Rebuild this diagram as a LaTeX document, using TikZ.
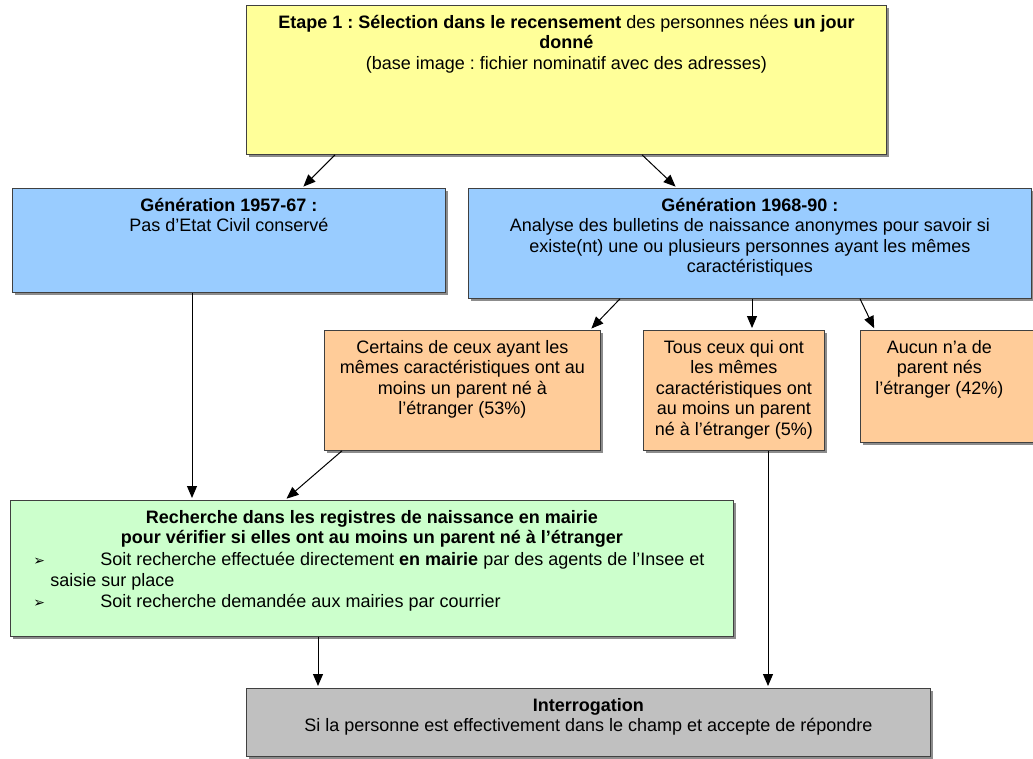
\documentclass[tikz,border=0pt]{standalone}
\usepackage{fontspec}
\setmainfont{Liberation Sans}
\newfontfamily\symfont{DejaVu Sans}
\usetikzlibrary{arrows.meta}
\definecolor{cyel}{HTML}{FFFF99}
\definecolor{cblue}{HTML}{99CCFF}
\definecolor{corange}{HTML}{FFCC99}
\definecolor{cgreen}{HTML}{CCFFCC}
\definecolor{cgray}{HTML}{C0C0C0}
\newcommand{\bx}[3]{\parbox[c][#1][t]{#2}{\frenchspacing\centering\rule{0pt}{23pt}#3}}
\newcommand{\blt}{\makebox[67pt][l]{\symfont\fontsize{14}{14}\selectfont ➢}}
\begin{document}
\begin{tikzpicture}[x=1pt,y=-1pt,
  box/.style={draw=black!75, line width=0.8pt, inner sep=0pt, anchor=north west,
    font=\fontsize{18}{20.5}\selectfont,
    preaction={fill=black!45, transform canvas={xshift=3pt,yshift=-3pt}}},
  arr/.style={-{Triangle[length=12pt,width=10pt]}, line width=1pt, shorten >=2pt}]
\useasboundingbox[fill=white] (0,0) rectangle (1033,758);

\node[box, fill=cyel] (yel) at (246,5) {\bx{149pt}{640pt}{%
  \textbf{Etape 1 : Sélection dans le recensement} des personnes nées \textbf{un jour}\\
  \textbf{donné}\\
  (base image : fichier nominatif avec des adresses)}};

\node[box, fill=cblue] (bl) at (12,188) {\bx{104pt}{433pt}{%
  \textbf{Génération 1957-67 :}\\
  Pas d'Etat Civil conservé}};

\node[box, fill=cblue] (br) at (468,188) {\bx{110pt}{563pt}{%
  \textbf{Génération 1968-90 :}\\
  Analyse des bulletins de naissance anonymes pour savoir si\\
  existe(nt) une ou plusieurs personnes ayant les mêmes\\
  caractéristiques}};

\node[box, fill=corange] (or1) at (324,330) {\bx{120pt}{276pt}{%
  Certains de ceux ayant les\\
  mêmes caractéristiques ont au\\
  moins un parent né à\\
  l'étranger (53\%)}};

\node[box, fill=corange] (or2) at (643,330) {\bx{120pt}{181pt}{%
  Tous ceux qui ont\\
  les mêmes\\
  caractéristiques ont\\
  au moins un parent\\
  né à l'étranger (5\%)}};

\node[box, fill=corange] (or3) at (860,330) {\bx{112pt}{158pt}{%
  Aucun n'a de\\
  parent nés\\
  l'étranger (42\%)}\rule{20pt}{0pt}};

\node[box, fill=cgreen] (gr) at (10,500) {\parbox[c][136pt][t]{723pt}{\frenchspacing
  {\centering\rule{0pt}{23pt}\textbf{Recherche dans les registres de naissance en mairie}\\
  \textbf{pour vérifier si elles ont au moins un parent né à l'étranger}\par}
  \vspace{1.5pt}
  {\raggedright\leftskip=40pt\parindent=-17pt
  \blt Soit recherche effectuée directement \textbf{en mairie} par des agents de l'Insee et\newline
  saisie sur place\par\vspace{1pt}
  \blt Soit recherche demandée aux mairies par courrier\par}}};

\node[box, fill=cgray] (gy) at (246,688) {\bx{68pt}{684pt}{%
  \textbf{Interrogation}\\
  Si la personne est effectivement dans le champ et accepte de répondre}};

\draw[arr] ([xshift=89pt]yel.south west) -- ([xshift=290pt]bl.north west);
\draw[arr] ([xshift=396pt]yel.south west) -- ([xshift=209pt]br.north west);
\draw[arr] ([xshift=152pt]br.south west) -- ([xshift=266pt]or1.north west);
\draw[arr] ([xshift=284pt]br.south west) -- ([xshift=109pt]or2.north west);
\draw[arr] ([xshift=392pt]br.south west) -- ([xshift=15pt]or3.north west);
\draw[arr] ([xshift=180pt]bl.south west) -- ([xshift=182pt]gr.north west);
\draw[arr] ([xshift=18pt]or1.south west) -- ([xshift=275pt]gr.north west);
\draw[arr] ([xshift=125pt]or2.south west) -- ([xshift=522pt]gy.north west);
\draw[arr] ([xshift=308pt]gr.south west) -- ([xshift=72pt]gy.north west);
\end{tikzpicture}
\end{document}
